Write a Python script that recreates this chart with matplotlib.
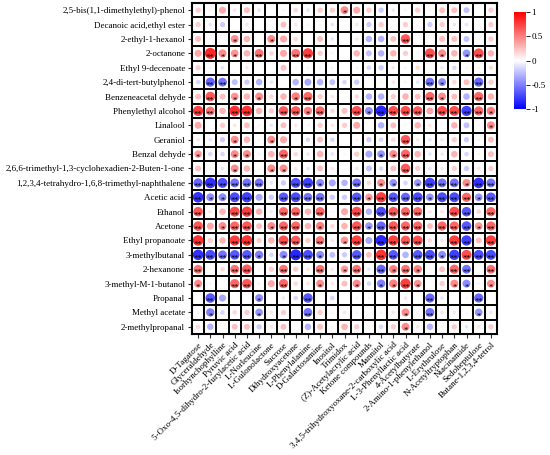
import numpy as np
import matplotlib.pyplot as plt
from matplotlib.colors import Normalize

plt.rcParams['font.family'] = ['Liberation Serif', 'DejaVu Serif']

volatiles = [
    "2,5-bis(1,1-dimethylethyl)-phenol", "Decanoic acid,ethyl ester", "2-ethyl-1-hexanol",
    "2-octanone", "Ethyl 9-decenoate", "2,4-di-tert-butylphenol", "Benzeneacetal dehyde",
    "Phenylethyl alcohol", "Linalool", "Geraniol", "Benzal dehyde",
    "2,6,6-trimethyl-1,3-cyclohexadien-2-Buten-1-one",
    "1,2,3,4-tetrahydro-1,6,8-trimethyl-naphthalene", "Acetic acid", "Ethanol", "Acetone",
    "Ethyl propanoate", "3-methylbutanal", "2-hexanone", "3-methyl-M-1-butanol",
    "Propanal", "Methyl acetate", "2-methylpropanal",
]

metabolites = [
    "D-Tagatose", "Glyceraldehyde", "Isorhynchophylline", "Pyruvic acid",
    "5-Oxo-4,5-dihydro-2-furylacetic acid", "L-Norleucine", "L-Gulonolactone", "Sucrose",
    "Dihydroxyacetone", "L-Phenylalanine", "D-Galactosamine", "Inositol", "Trimidox",
    "(Z)-Acetylacrylic acid", "Ketone compounds", "Mannitol",
    "3,4,5-trihydroxyoxane-2-carboxylic acid", "L-3-Phenyllactic acid", "4-Acetylbutyrate",
    "2-Amino-1-phenylethanol", "L-Erythrulose", "N-Acetyltryptophan", "Niacinamide",
    "Sedoheptulose", "Butane-1,2,3,4-tetrol",
]

# correlation coefficients, one row per volatile (same order as above)
r_values = [
    [0.2, 0.05, 0.35, 0.1, 0.25, -0.1, 0, 0.05, 0.15, -0.1, 0.2, 0.2, 0.45, 0.35, 0.2, -0.2, 0.1, 0.05, 0.2, 0.05, 0.25, 0.25, -0.25, 0, 0.2],
    [0.2, -0.1, -0.2, 0, 0.1, 0, 0, 0.25, 0.1, 0.05, 0.05, -0.1, 0, 0.1, -0.2, 0.2, 0, 0.2, 0.05, -0.2, 0.2, -0.1, -0.1, 0.05, 0.2],
    [0.25, 0.05, 0, 0.45, 0.3, 0, 0.45, 0.35, 0.15, 0, 0.25, -0.1, 0, 0.1, -0.3, -0.3, 0.25, 0.65, 0, 0, 0.25, 0.25, -0.25, 0.05, 0.2],
    [0.35, 0.85, 0.45, 0.42, 0.3, 0.55, 0.15, 0.35, 0.55, 0.75, 0.2, 0.05, 0, 0.3, -0.25, -0.3, 0.3, 0.2, 0.05, 0.7, 0.45, 0.3, -0.42, 0.7, 0.3],
    [0.2, -0.05, -0.1, 0, 0.1, 0, 0, 0.25, 0.05, 0.05, 0.05, -0.05, 0, 0.05, -0.15, -0.2, 0.1, 0.05, 0.15, 0, 0.1, -0.15, 0.05, 0.05, 0.15],
    [-0.15, -0.6, -0.55, -0.25, -0.2, -0.3, -0.1, 0, -0.3, -0.35, -0.3, -0.25, -0.15, -0.2, 0, 0.05, 0.1, 0.05, -0.1, -0.55, -0.45, 0.15, 0.25, -0.6, 0.2],
    [0.25, 0.65, 0.25, 0.42, 0.3, 0.45, 0.15, 0.3, 0.5, 0.6, 0.2, 0.1, 0, 0.15, -0.3, -0.3, 0.2, 0.3, 0.25, 0.6, 0.45, 0.25, -0.3, 0.6, 0.3],
    [0.75, 0.55, 0.3, 0.8, 0.8, 0.3, 0.2, 0.65, 0.65, 0.5, 0.6, 0.15, 0.25, 0.7, -0.45, -0.85, 0.7, 0.7, 0.65, 0.35, 0.7, 0.7, -0.75, 0.6, 0.5],
    [0.35, 0, 0.2, 0.1, 0.25, 0.05, -0.1, 0.25, 0.1, 0.05, 0.2, 0.1, 0.2, 0.35, 0, -0.3, 0.25, 0.05, 0.3, 0.1, 0.05, 0.3, -0.25, 0.05, 0.45],
    [0.1, -0.1, -0.2, 0.45, 0.3, 0.05, 0.45, 0.35, 0.05, -0.15, 0.25, -0.15, 0, 0.05, -0.2, -0.15, 0.15, 0.65, 0.1, -0.1, 0.1, 0.2, -0.2, 0.05, 0.25],
    [0.4, -0.15, -0.15, 0.45, 0.45, 0.05, 0.3, 0.6, 0.15, 0.1, 0.3, -0.1, 0.05, 0.2, -0.35, -0.42, 0.45, 0.6, 0.3, -0.1, 0.1, 0.3, -0.15, 0.05, 0.25],
    [0.25, 0.05, -0.1, 0.45, 0.3, 0.05, 0.45, 0.45, 0.1, -0.1, 0.25, 0.1, 0, 0.1, -0.25, -0.15, 0.25, 0.65, 0.2, -0.1, 0.1, 0.2, -0.2, 0.1, 0.2],
    [-0.6, -0.8, -0.7, -0.55, -0.55, -0.55, -0.1, -0.2, -0.7, -0.75, -0.45, -0.35, -0.3, -0.55, 0.15, 0.45, -0.42, -0.15, -0.4, -0.75, -0.55, -0.55, 0.45, -0.8, -0.55],
    [-0.8, -0.45, -0.45, -0.7, -0.75, -0.35, -0.2, -0.65, -0.7, -0.55, -0.55, -0.2, -0.2, -0.65, 0.4, 0.75, -0.65, -0.6, -0.7, -0.42, -0.7, -0.7, 0.6, -0.42, -0.65],
    [0.65, 0.1, 0.3, 0.7, 0.75, 0.3, 0.1, 0.6, 0.6, 0.3, 0.6, 0.05, 0.35, 0.7, -0.3, -0.7, 0.65, 0.6, 0.6, 0.1, 0.1, 0.7, -0.65, 0.15, 0.6],
    [0.65, 0.35, 0.45, 0.6, 0.65, 0.25, 0.45, 0.6, 0.6, 0.3, 0.5, 0.15, 0.3, 0.65, -0.4, -0.6, 0.65, 0.6, 0.6, 0.25, 0.6, 0.6, -0.65, 0.42, 0.6],
    [0.8, 0.2, 0.3, 0.75, 0.8, 0.2, 0.3, 0.7, 0.65, 0.2, 0.55, 0.1, 0.42, 0.75, -0.35, -0.85, 0.75, 0.65, 0.7, 0.15, 0.1, 0.75, -0.75, 0.25, 0.75],
    [-0.8, -0.7, -0.55, -0.65, -0.65, -0.5, -0.15, -0.45, -0.85, -0.7, -0.45, -0.25, -0.2, -0.65, 0.25, 0.8, -0.65, -0.3, -0.65, -0.7, -0.45, -0.75, 0.7, -0.7, -0.7],
    [0.55, 0.05, 0.15, 0.55, 0.65, 0.05, 0.2, 0.55, 0.2, 0.1, 0.55, 0.1, 0.4, 0.55, -0.1, -0.6, 0.5, 0.55, 0.5, 0.05, 0.25, 0.6, -0.55, 0, 0.55],
    [0.45, 0.05, 0, 0.6, 0.65, 0.05, 0.35, 0.6, 0.15, 0.1, 0.45, 0.1, 0.25, 0.45, -0.15, -0.5, 0.5, 0.75, 0.42, 0, 0.2, 0.45, -0.45, 0.05, 0.45],
    [0, -0.65, -0.35, 0, 0, -0.45, 0, 0.1, -0.15, -0.65, 0, -0.15, 0, 0.05, 0.05, 0, 0, 0.1, 0, -0.6, -0.1, 0, 0.05, -0.6, 0],
    [0.05, -0.5, -0.15, 0.15, 0.2, -0.42, 0.1, 0.2, 0.05, -0.55, 0.2, 0.05, 0.1, 0.05, 0, -0.05, 0.1, 0.45, 0.05, -0.55, 0.1, 0.1, 0.05, -0.42, 0.1],
    [0.15, -0.3, 0, 0.25, 0.25, -0.2, 0.1, 0.25, 0, -0.3, 0.25, 0.05, 0.3, 0.2, 0.05, -0.15, 0.2, 0.45, 0.1, -0.3, 0.05, 0.2, -0.1, 0.1, 0.2],
]

R = np.array(r_values)
n_rows, n_cols = R.shape

fig = plt.figure(figsize=(5.5, 4.55), dpi=100)
ax = fig.add_axes([192 / 550, 1 - 334 / 455, 305 / 550, 331 / 455])

norm = Normalize(-1, 1)
cmap = plt.get_cmap('bwr')

cols, rows = np.meshgrid(np.arange(n_cols), np.arange(n_rows))
vals = R.ravel()
# circle diameter ~ cell width at |r| = 1, area proportional to |r|
cell_pt = 12.2 * 72 / 100
sizes = (cell_pt ** 2) * np.abs(vals) * 0.95
ax.scatter(cols.ravel(), rows.ravel(), s=sizes, c=vals, cmap=cmap, norm=norm,
           linewidths=0, zorder=2)

# significance marks
for i in range(n_rows):
    for j in range(n_cols):
        v = abs(R[i, j])
        mark = "**" if v >= 0.55 else ("*" if v >= 0.4 else "")
        if mark:
            ax.text(j, i + 0.28, mark, ha='center', va='center', fontsize=6,
                    color='black', zorder=3)

# grid
for k in range(n_cols + 1):
    ax.axvline(k - 0.5, color='black', lw=1.4, zorder=1)
for k in range(n_rows + 1):
    ax.axhline(k - 0.5, color='black', lw=1.4, zorder=1)

ax.set_xlim(-0.5, n_cols - 0.5)
ax.set_ylim(n_rows - 0.5, -0.5)
ax.set_xticks(range(n_cols))
ax.set_yticks(range(n_rows))
ax.set_yticklabels(volatiles, fontsize=6.5)
ax.set_xticklabels(metabolites, fontsize=6.5, rotation=45, ha='right',
                   rotation_mode='anchor')
ax.tick_params(length=3, width=0.8, color='#333333', pad=2)
for s in ax.spines.values():
    s.set_linewidth(1.5)

# colour bar
cax = fig.add_axes([514 / 550, 1 - 109 / 455, 12 / 550, 97 / 455])
sm = plt.cm.ScalarMappable(norm=norm, cmap=cmap)
cb = fig.colorbar(sm, cax=cax, ticks=[1, 0.5, 0, -0.5, -1])
cb.ax.set_yticklabels(['1', '0.5', '0', '-0.5', '-1'], fontsize=6.5)
cb.outline.set_visible(False)
cb.ax.tick_params(length=3, width=0.6, pad=1)

fig.savefig('out.png', dpi=100)
